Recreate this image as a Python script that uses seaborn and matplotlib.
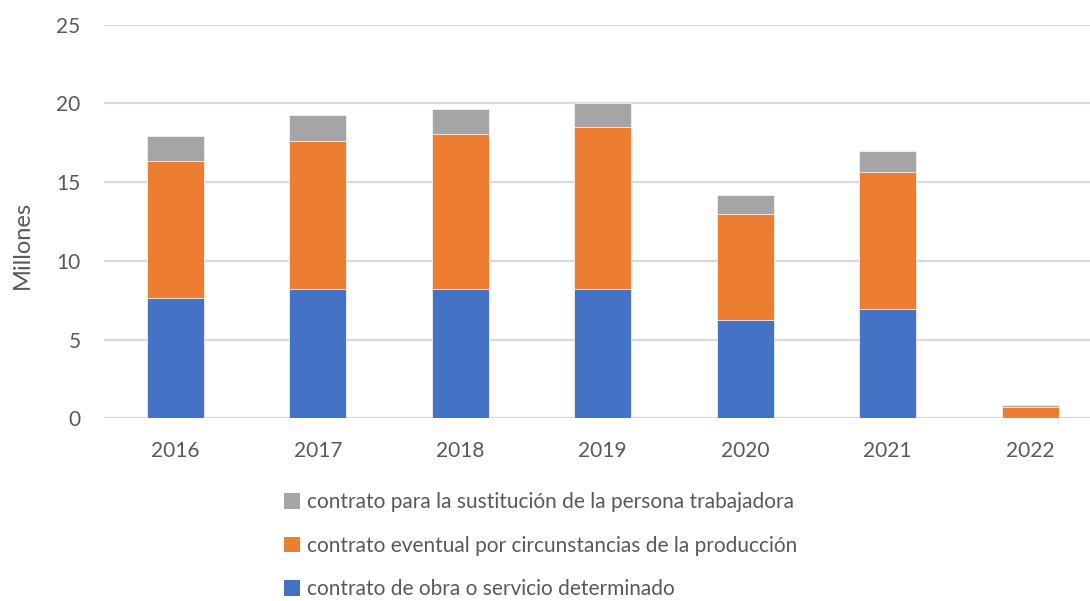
import matplotlib
matplotlib.use("Agg")
import matplotlib.pyplot as plt
import seaborn as sns
import pandas as pd
from matplotlib.patches import Patch

# datos (millones de contratos)
years = ["2016", "2017", "2018", "2019", "2020", "2021", "2022"]
obra_servicio = [7.66, 8.23, 8.23, 8.19, 6.23, 6.96, 0.05]
eventual = [8.67, 9.41, 9.85, 10.30, 6.75, 8.71, 0.69]
sustitucion = [1.60, 1.59, 1.57, 1.56, 1.21, 1.33, 0.10]

labels = ["contrato de obra o servicio determinado",
          "contrato eventual por circunstancias de la producción",
          "contrato para la sustitución de la persona trabajadora"]
colors = ["#4472C4", "#ED7D31", "#A5A5A5"]

df = pd.DataFrame({"year": years, "obra": obra_servicio,
                   "eventual": eventual, "sust": sustitucion})
df["c1"] = df["obra"]
df["c2"] = df["c1"] + df["eventual"]
df["c3"] = df["c2"] + df["sust"]

sns.set_style("white")
plt.rcParams["font.family"] = ["Lato", "DejaVu Sans"]
txt = "#595959"

fig = plt.figure(figsize=(10.9, 6.01), dpi=100)
ax = fig.add_axes([0.0955, 0.304, 0.9045, 0.655])

# barras apiladas: se dibuja el acumulado de arriba hacia abajo
for col, c in zip(["c3", "c2", "c1"], colors[::-1]):
    sns.barplot(data=df, x="year", y=col, color=c, width=0.4, saturation=1,
                edgecolor="#f2f2f2", linewidth=0.6, ax=ax, zorder=3)

ax.set_ylim(0, 25)
ax.set_xlim(-0.5, 6.42)
ax.set_yticks([0, 5, 10, 15, 20, 25])
ax.yaxis.grid(True, color="#D9D9D9", linewidth=1.6, zorder=0)
ax.set_axisbelow(True)
for s in ax.spines.values():
    s.set_visible(False)
ax.tick_params(axis="both", length=0, labelsize=15, colors=txt)
ax.tick_params(axis="y", pad=17)
ax.tick_params(axis="x", pad=16)
ax.set_xlabel("")
ax.set_ylabel("Millones", fontsize=17, color=txt)
ax.yaxis.set_label_coords(-0.072, 0.44)

handles = [Patch(facecolor=c, edgecolor="none") for c in colors[::-1]]
fig.legend(handles, labels[::-1], loc="upper left",
           bbox_to_anchor=(0.261, 0.181), frameon=False, fontsize=15,
           labelcolor=txt, handlelength=0.75, handleheight=0.75,
           handletextpad=0.35, labelspacing=1.13, borderpad=0, borderaxespad=0)

plt.savefig("out.png", dpi=100)
